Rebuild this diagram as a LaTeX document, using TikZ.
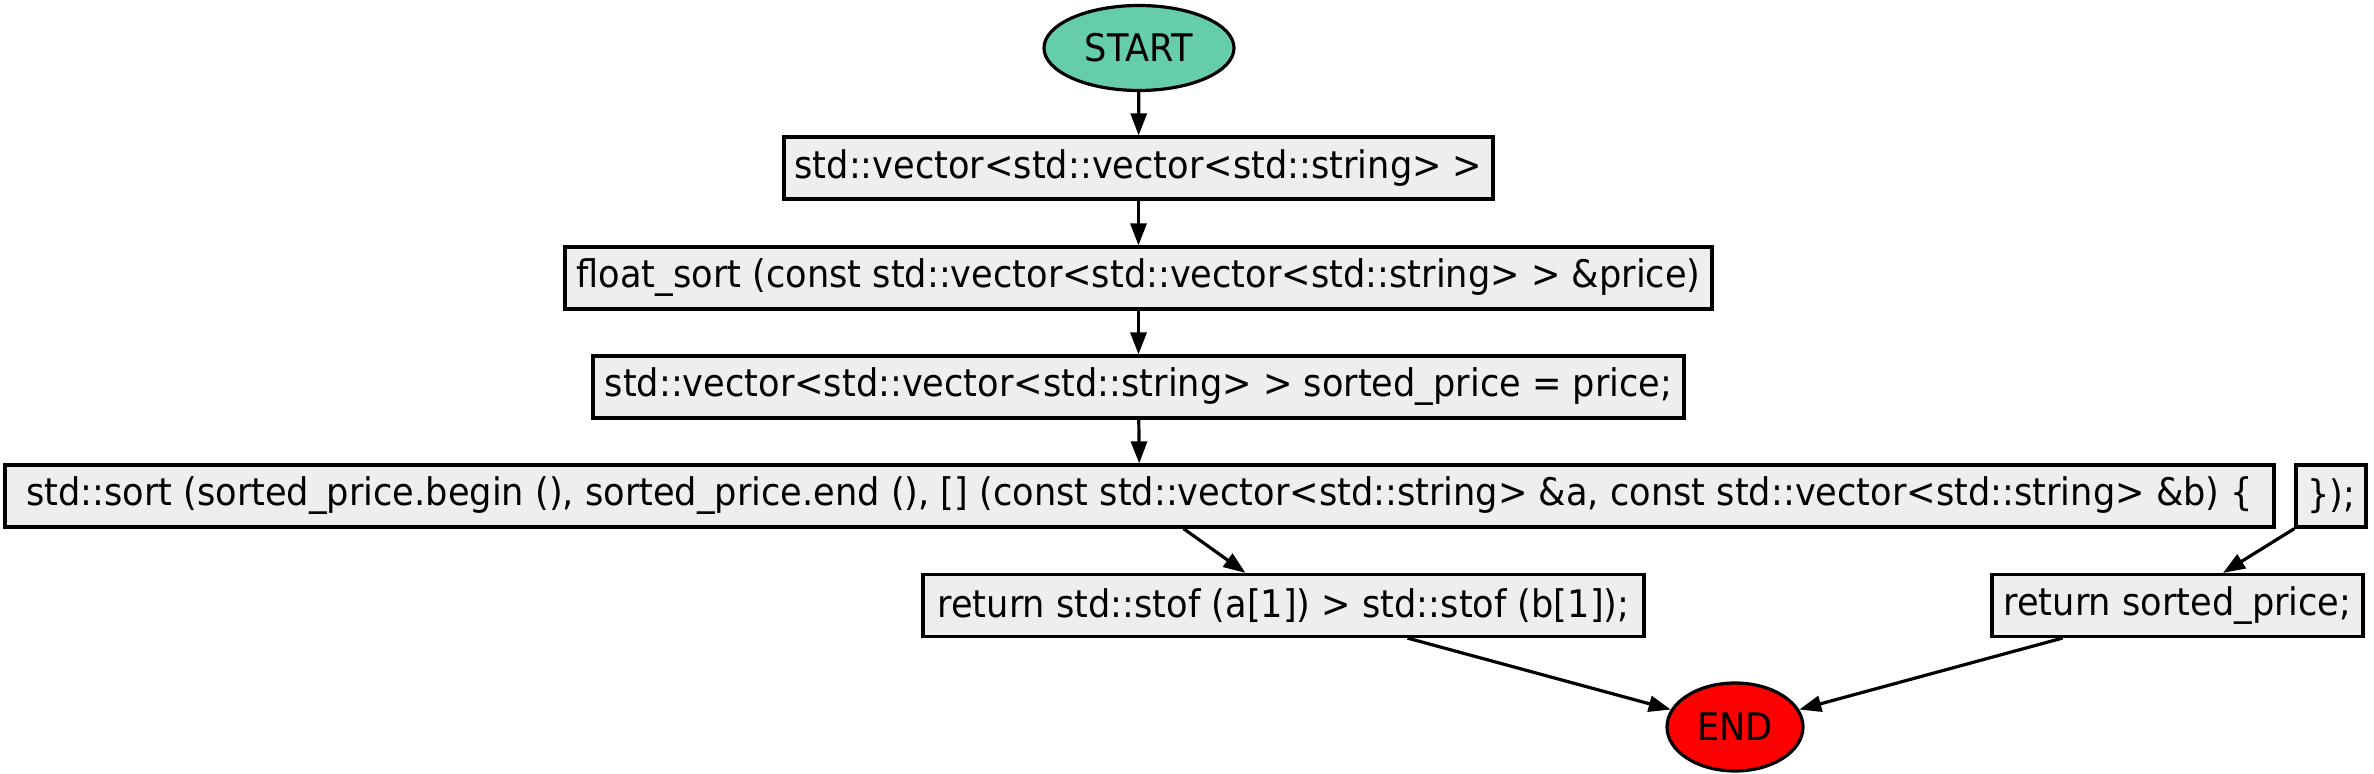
\documentclass[tikz,border=0pt]{standalone}
\usepackage{fontspec}
\setmainfont{DejaVu Sans}[FakeStretch=0.926]
\usetikzlibrary{arrows.meta,shapes.geometric}
\definecolor{boxfill}{HTML}{EEEEEE}
\definecolor{startfill}{HTML}{66CDAA}
\begin{document}
\begin{tikzpicture}[x=0.5pt,y=-0.5pt,
  every node/.style={font=\fontsize{19pt}{22pt}\selectfont, inner sep=0pt, line width=1.6pt},
  stepbox/.style={draw=black, fill=boxfill, rectangle, minimum height=31pt},
  term/.style={draw=black, ellipse},
  arr/.style={-{Triangle[length=11pt,width=8pt]}, line width=1.6pt}]
\useasboundingbox (0,0) rectangle (2374,774);
\node[term, fill=startfill, minimum width=95pt, minimum height=42.5pt] (start) at (1139,48) {START};
\node[stepbox, minimum width=354.5pt] (b1) at (1138.5,168) {std::vector<std::vector<std::string> >};
\node[stepbox, minimum width=573.5pt] (b2) at (1138.5,278) {float\_sort (const std::vector<std::vector<std::string> > \&price)};
\node[stepbox, minimum width=545.5pt] (b3) at (1138.5,387) {std::vector<std::vector<std::string> > sorted\_price = price;};
\node[stepbox, minimum width=1134.5pt] (b4) at (1139.5,496) {std::sort (sorted\_price.begin (), sorted\_price.end (), [] (const std::vector<std::string> \&a, const std::vector<std::string> \&b) \{};
\node[stepbox, minimum width=35pt] (b5) at (2331,496) {\});};
\node[stepbox, minimum width=360.5pt] (b6) at (1283.5,605.5) {return std::stof (a[1]) > std::stof (b[1]);};
\node[stepbox, minimum width=185.5pt] (b7) at (2177.5,605.5) {return sorted\_price;};
\node[term, fill=red, minimum width=68pt, minimum height=44pt] (end) at (1735,727) {END};
\draw[arr] (start) -- (b1);
\draw[arr] (b1) -- (b2);
\draw[arr] (b2) -- (b3);
\draw[arr] (b3) -- (b4);
\draw[arr] ([xshift=22pt]b4.south) -- ([xshift=-19pt]b6.north);
\draw[arr] (b5.south west) -- ([xshift=22.75pt]b7.north);
\draw[arr] ([xshift=62pt]b6.south) -- (end);
\draw[arr] ([xshift=-57.5pt]b7.south) -- (end);
\end{tikzpicture}
\end{document}
